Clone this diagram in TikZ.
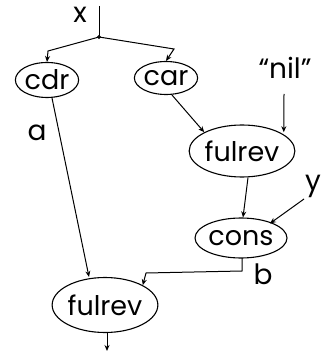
\documentclass[tikz,border=0pt]{standalone}
\usepackage{fontspec}
\setmainfont{Poppins}
\usetikzlibrary{shapes.geometric,arrows.meta}
\begin{document}
\begin{tikzpicture}[x=1pt,y=-1pt,
  fn/.style={draw,ellipse,line width=1.1pt,inner sep=0pt,font=\fontsize{27}{27}\selectfont},
  lbl/.style={inner sep=0pt,font=\fontsize{28}{28}\selectfont},
  wire/.style={line width=1pt},
  arr/.style={wire,-{Stealth[length=6pt,width=5pt]}}]
\useasboundingbox (0,0) rectangle (324,352);
% nodes
\node[fn,minimum width=52pt,minimum height=35pt] (cdr) at (47,80) {cdr};
\node[fn,minimum width=62pt,minimum height=33pt] (car) at (166,78) {car};
\node[fn,minimum width=76pt,minimum height=52pt] (f1) at (242,151) {fulrev};
\node[fn,minimum width=74pt,minimum height=40pt] (cons) at (241,238) {cons};
\node[fn,minimum width=92pt,minimum height=55pt] (f2) at (105,305) {fulrev};
% labels
\node[lbl] (x) at (80,15) {x};
\node[lbl] (nil) at (285,68) {“nil”};
\node[lbl] (y) at (313,186) {y};
\node[lbl] (a) at (37,133) {a};
\node[lbl] (b) at (263,274) {b};
% coordinates
\coordinate (xtop) at (99,6);
\coordinate (j) at (99,37);
\coordinate (lc) at (48,51);
\coordinate (rc) at (174,49);
\coordinate (nils) at (284,94);
\coordinate (ys) at (304,199);
\coordinate (cb) at (242,258);
\coordinate (c1) at (242,271);
\coordinate (c2) at (146,273);
\coordinate (out) at (107,351);
% connectors
\draw[wire] (xtop) -- (j);
\draw[wire,fill=white] (j) circle (1.3pt);
\draw[arr] (j) -- (lc) -- (cdr.north);
\draw[arr] (j) -- (rc) -- (car.north);
\draw[arr] (car.south) ++(6,0) -- (f1.north west);
\draw[arr] (nils) -- ([xshift=4pt]f1.north east);
\draw[arr] (f1.south) ++(6,0) -- ([xshift=2pt]cons.north);
\draw[arr] (ys) -- ([xshift=-4pt]cons.north east);
\draw[arr] (cb) -- (c1) -- (c2) -- (f2.north east);
\draw[arr] ([xshift=5pt]cdr.south) -- ([xshift=-16pt]f2.north);
\draw[arr] ([xshift=2pt]f2.south) -- (out);
\end{tikzpicture}
\end{document}
